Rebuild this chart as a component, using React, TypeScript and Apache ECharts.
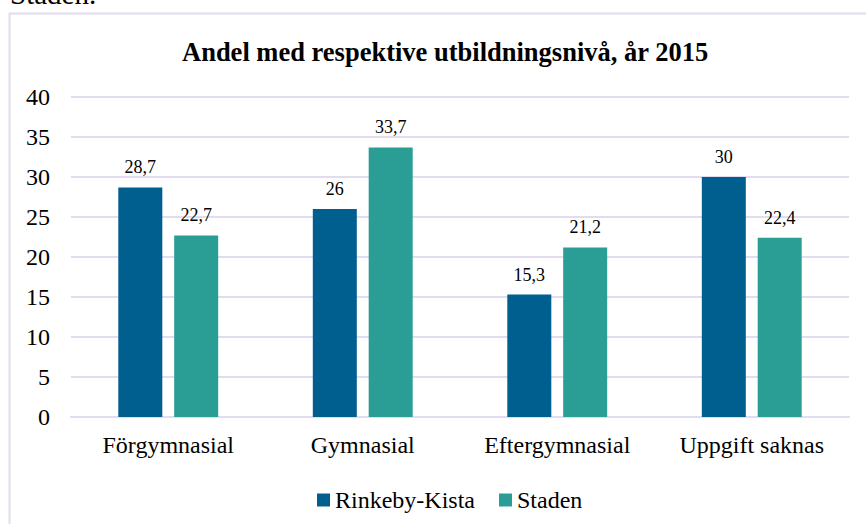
import React, { useEffect, useRef } from "react";
import * as echarts from "echarts";

const categories = ["Förgymnasial", "Gymnasial", "Eftergymnasial", "Uppgift saknas"];
const rinkebyKista = [28.7, 26, 15.3, 30];
const staden = [22.7, 33.7, 21.2, 22.4];
const seriesNames = ["Rinkeby-Kista", "Staden"];
const titleText = "Andel med respektive utbildningsnivå, år 2015";
const captionText = "Staden.";

const FONT = "Liberation Serif";

export default function App() {
  const ref = useRef<HTMLDivElement>(null);
  useEffect(() => {
    if (!ref.current) return;
    const chart = echarts.init(ref.current, undefined, { renderer: "svg" });
    const fmt = (p: any) => String(p.value).replace(".", ",");
    const labelStyle = {
      show: true,
      position: "top",
      distance: 11,
      formatter: fmt,
      fontFamily: FONT,
      fontSize: 18,
      color: "#000",
    };
    chart.setOption({
      animation: false,
      backgroundColor: "#ffffff",
      textStyle: { fontFamily: FONT, color: "#000" },
      title: {
        text: titleText,
        left: 177,
        top: 33,
        textStyle: { fontFamily: FONT, fontSize: 26.5, fontWeight: "bold", color: "#000" },
      },
      graphic: [
        {
          type: "rect",
          shape: { x: 9.5, y: 13.5, width: 900, height: 600 },
          style: { fill: "none", stroke: "#e3dcf0", lineWidth: 2 },
          silent: true,
        },
        {
          type: "text",
          x: 10,
          y: -6,
          style: { text: captionText, fontFamily: FONT, fontSize: 29, fill: "#000", verticalAlign: "middle" },
        },
      ],
      legend: {
        left: 312,
        top: 483,
        itemWidth: 13,
        itemHeight: 13,
        itemGap: 24,
        icon: "rect",
        textStyle: { fontFamily: FONT, fontSize: 24, color: "#000" },
        data: seriesNames,
      },
      grid: { left: 71, right: 17, top: 97, bottom: 107, containLabel: false },
      xAxis: {
        type: "category",
        data: categories,
        axisLine: { show: true, lineStyle: { color: "#e3dcf0", width: 2 } },
        axisTick: { show: false },
        axisLabel: { fontFamily: FONT, fontSize: 24, color: "#000", margin: 16 },
      },
      yAxis: {
        type: "value",
        min: 0,
        max: 40,
        interval: 5,
        axisLine: { show: false },
        axisTick: { show: false },
        splitLine: { lineStyle: { color: "#e3dcf0", width: 2 } },
        axisLabel: { fontFamily: FONT, fontSize: 24, color: "#000", margin: 21 },
      },
      series: [
        {
          name: seriesNames[0],
          type: "bar",
          data: rinkebyKista,
          barWidth: 44,
          barGap: "27%",
          itemStyle: { color: "#005f8f" },
          label: labelStyle,
        },
        {
          name: seriesNames[1],
          type: "bar",
          data: staden,
          barWidth: 44,
          itemStyle: { color: "#2a9d94" },
          label: labelStyle,
        },
      ],
    });
    return () => chart.dispose();
  }, []);
  return <div ref={ref} style={{ position: "absolute", left: 0, top: 0, width: 866, height: 524 }} />;
}
